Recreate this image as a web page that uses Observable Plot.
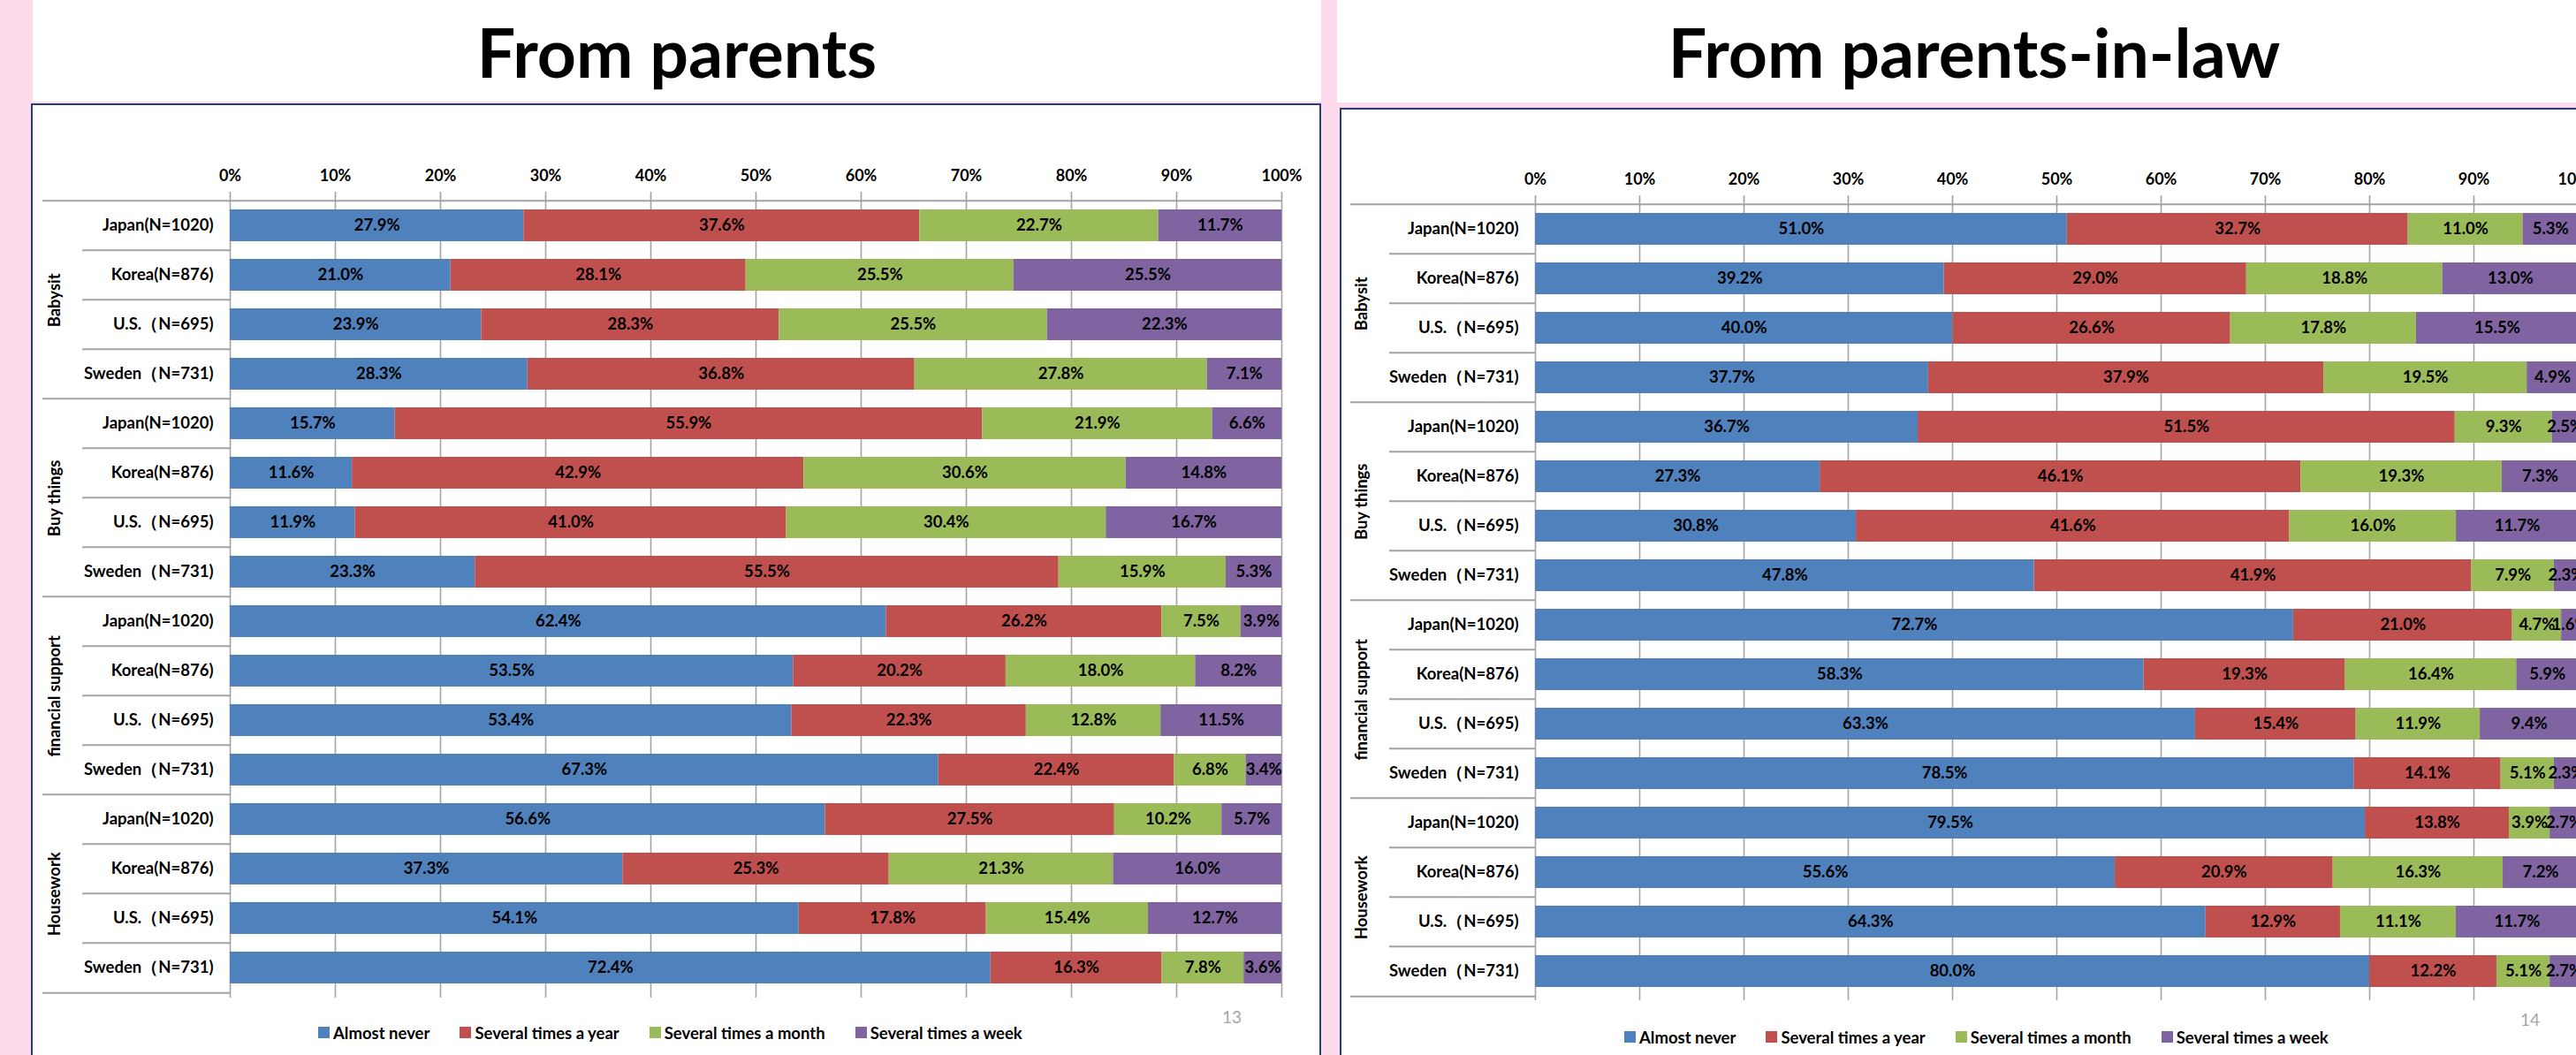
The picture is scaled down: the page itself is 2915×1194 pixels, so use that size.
<!DOCTYPE html>
<html>
<head>
<meta charset="utf-8">
<script src="https://cdn.jsdelivr.net/npm/d3@7"></script>
<script src="https://cdn.jsdelivr.net/npm/@observablehq/plot@0.6"></script>
<style>
html, body { margin: 0; padding: 0; overflow: hidden; background: #fcdaeb; }
#page { position: relative; width: 2915px; height: 1194px; background: #fcdaeb; overflow: hidden; font-family: Lato, "Noto Sans", sans-serif; }
.titlebox { position: absolute; top: 0; background: #fff; text-align: center; font-weight: 700; font-size: 77px; line-height: 1; color: #000; box-sizing: border-box; padding-top: 20px; white-space: nowrap; }
.box { position: absolute; background: #fff; border: 2.5px solid #223d79; box-sizing: border-box; }
.plotwrap { position: absolute; }
.plotwrap svg { overflow: visible; max-width: none !important; }
.pagenum { position: absolute; color: #a6a6a6; font-size: 19px; line-height: 1; }
.legendwrap { position: absolute; white-space: nowrap; width: 1000px; }
.lg-swatches { font-family: Lato, sans-serif !important; font-size: 18.5px !important; font-weight: 700; color: #000; margin: 0 !important; flex-wrap: nowrap !important; }
.lg-swatch { margin-right: 34px !important; }
.lg-swatch > svg { margin-right: 4px !important; }
</style>
</head>
<body>
<div id="page"></div>
<script>
// ---------- data ----------
const categories = ["Babysit", "Buy things", "financial support", "Housework"];
const countries = ["Japan(N=1020)", "Korea(N=876)", "U.S.（N=695)", "Sweden（N=731)"];
const seriesNames = ["Almost never", "Several times a year", "Several times a month", "Several times a week"];
const seriesColors = ["#4f81bd", "#c0504d", "#9bbb59", "#8064a2"];
const tickValues = [0, 0.1, 0.2, 0.3, 0.4, 0.5, 0.6, 0.7, 0.8, 0.9, 1];

// From parents (rows: category x country, in order)
const parentsAlmostNever = [27.9, 21.0, 23.9, 28.3, 15.7, 11.6, 11.9, 23.3, 62.4, 53.5, 53.4, 67.3, 56.6, 37.3, 54.1, 72.4];
const parentsYear        = [37.6, 28.1, 28.3, 36.8, 55.9, 42.9, 41.0, 55.5, 26.2, 20.2, 22.3, 22.4, 27.5, 25.3, 17.8, 16.3];
const parentsMonth       = [22.7, 25.5, 25.5, 27.8, 21.9, 30.6, 30.4, 15.9, 7.5, 18.0, 12.8, 6.8, 10.2, 21.3, 15.4, 7.8];
const parentsWeek        = [11.7, 25.5, 22.3, 7.1, 6.6, 14.8, 16.7, 5.3, 3.9, 8.2, 11.5, 3.4, 5.7, 16.0, 12.7, 3.6];

// From parents-in-law
const inlawAlmostNever = [51.0, 39.2, 40.0, 37.7, 36.7, 27.3, 30.8, 47.8, 72.7, 58.3, 63.3, 78.5, 79.5, 55.6, 64.3, 80.0];
const inlawYear        = [32.7, 29.0, 26.6, 37.9, 51.5, 46.1, 41.6, 41.9, 21.0, 19.3, 15.4, 14.1, 13.8, 20.9, 12.9, 12.2];
const inlawMonth       = [11.0, 18.8, 17.8, 19.5, 9.3, 19.3, 16.0, 7.9, 4.7, 16.4, 11.9, 5.1, 3.9, 16.3, 11.1, 5.1];
const inlawWeek        = [5.3, 13.0, 15.5, 4.9, 2.5, 7.3, 11.7, 2.3, 1.6, 5.9, 9.4, 2.3, 2.7, 7.2, 11.7, 2.7];

const titles = ["From parents", "From parents-in-law"];
const pageNumbers = ["13", "14"];

// ---------- chart builder ----------
const gridColor = "#a3a3a3";

function makeChart(vals, cfg) {
  const rows = [];
  categories.forEach((cat, ci) => countries.forEach((cn, ni) =>
    rows.push({key: cat + "|" + cn, cat, country: cn, first: ni === 0, index: ci * countries.length + ni})));
  const data = [];
  rows.forEach((r, i) => seriesNames.forEach((s, si) =>
    data.push({key: r.key, series: s, value: vals[si][i]})));

  const innerH = cfg.height - cfg.marginTop - cfg.marginBottom;
  const step = innerH / rows.length;
  const pxPerUnit = cfg.width - cfg.marginLeft - cfg.marginRight;
  const px = p => p / pxPerUnit;
  const groupStarts = rows.filter(r => r.first);
  const last = rows[rows.length - 1];

  return Plot.plot({
    width: cfg.width,
    height: cfg.height,
    marginTop: cfg.marginTop,
    marginBottom: cfg.marginBottom,
    marginLeft: cfg.marginLeft,
    marginRight: cfg.marginRight,
    style: {fontFamily: "Lato, sans-serif", fontSize: "18px", fontWeight: "bold", background: "transparent", color: "#000", overflow: "visible", maxWidth: "none"},
    x: {domain: [0, 1]},
    y: {domain: rows.map(r => r.key), paddingInner: 0.35, paddingOuter: 0.175},
    color: {domain: seriesNames, range: seriesColors},
    marks: [
      Plot.gridX({ticks: tickValues, stroke: gridColor, strokeOpacity: 1, strokeWidth: 1.6}),
      Plot.barX(data, Plot.stackX({x: "value", y: "key", fill: "series", offset: "normalize"})),
      Plot.text(data, Plot.stackX({x: "value", y: "key", z: "series", offset: "normalize",
        text: d => d.value.toFixed(1) + "%", fill: "#000", fontSize: 18.5, fontWeight: "bold"})),
      Plot.ruleY(rows, {y: "key", dy: -step / 2,
        x1: r => r.first ? px(-cfg.groupSep) : px(-cfg.rowSep),
        x2: r => r.index === 0 ? 1 : 0,
        stroke: gridColor, strokeWidth: 2}),
      Plot.ruleY([last], {y: "key", dy: step / 2, x1: px(-cfg.groupSep), x2: 0, stroke: gridColor, strokeWidth: 2}),
      Plot.axisX({anchor: "top", ticks: tickValues, tickSize: 6, tickPadding: 12,
        tickFormat: d => Math.round(d * 100) + "%", stroke: gridColor, strokeWidth: 1.6, fill: "#000", label: null, fontSize: 18}),
      Plot.axisY({tickSize: 0, tickPadding: 19, tickFormat: k => k.split("|")[1], fill: "#000", label: null, fontSize: 18.5}),
      Plot.text(groupStarts, {y: r => rows[r.index + 1].key, dy: step / 2, x: px(-cfg.catOffset),
        rotate: -90, text: "cat", fill: "#000", fontSize: 18.5, fontWeight: "bold"})
    ]
  });
}

// ---------- page assembly ----------
const page = document.getElementById("page");
function el(cls, css, child) {
  const d = document.createElement("div");
  d.className = cls;
  Object.assign(d.style, css);
  if (typeof child === "string") d.textContent = child;
  else if (child) d.appendChild(child);
  page.appendChild(d);
  return d;
}

const panels = [
  {vals: [parentsAlmostNever, parentsYear, parentsMonth, parentsWeek],
   title: {left: 37, width: 1458, height: 115},
   box: {left: 35, top: 117, width: 1460},
   plot: {left: 40, top: 122, width: 1440, height: 1060, marginTop: 100, marginBottom: 53, marginLeft: 220, marginRight: 30,
          groupSep: 212, rowSep: 167, catOffset: 198},
   legend: {left: 360, top: 1152},
   num: {left: 1383, top: 1141}},
  {vals: [inlawAlmostNever, inlawYear, inlawMonth, inlawWeek],
   title: {left: 1513, width: 1442, height: 116},
   box: {left: 1516, top: 122, width: 1500},
   plot: {left: 1520, top: 126, width: 1440, height: 1060, marginTop: 100, marginBottom: 54, marginLeft: 217, marginRight: 43,
          groupSep: 209, rowSep: 165, catOffset: 196},
   legend: {left: 1838, top: 1157},
   num: {left: 2852, top: 1144}}
];

panels.forEach((p, i) => {
  el("titlebox", {left: p.title.left + "px", width: p.title.width + "px", height: p.title.height + "px"}, titles[i]);
  el("box", {left: p.box.left + "px", top: p.box.top + "px", width: p.box.width + "px", height: "1200px"});
  el("plotwrap", {left: p.plot.left + "px", top: p.plot.top + "px", width: p.plot.width + "px", height: p.plot.height + "px"}, makeChart(p.vals, p.plot));
  const lg = Plot.legend({color: {domain: seriesNames, range: seriesColors}, legend: "swatches", swatchSize: 13, className: "lg"});
  el("legendwrap", {left: p.legend.left + "px", top: p.legend.top + "px"}, lg);
  el("pagenum", {left: p.num.left + "px", top: p.num.top + "px"}, pageNumbers[i]);
});
</script>
</body>
</html>
